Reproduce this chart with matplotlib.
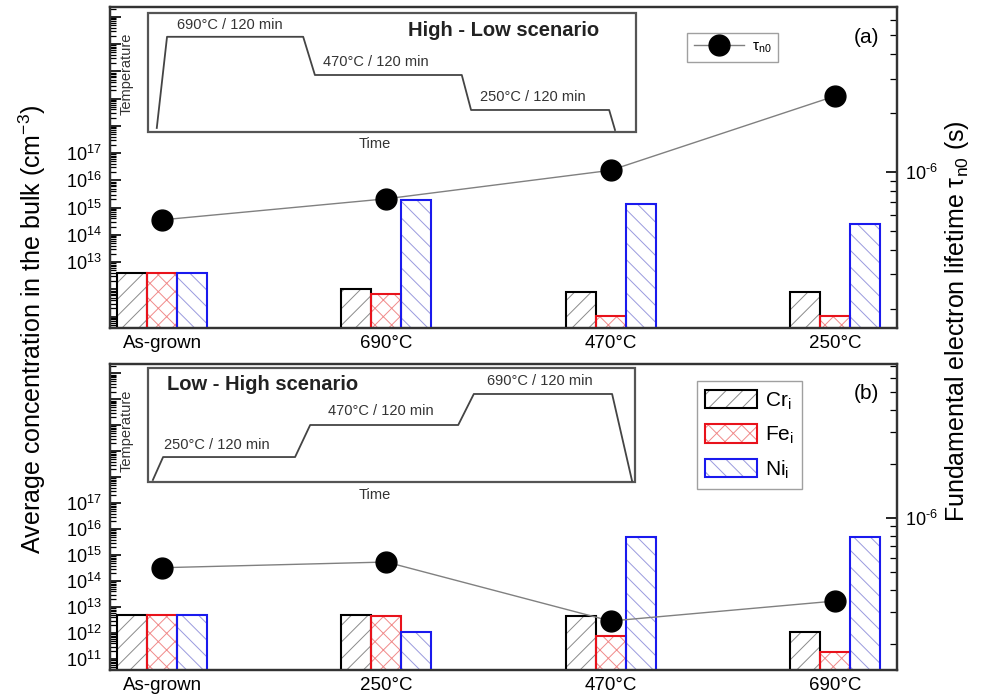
import matplotlib
matplotlib.use('Agg')
import matplotlib.pyplot as plt
import numpy as np
from matplotlib.ticker import LogLocator, FuncFormatter, NullFormatter, FixedLocator
from matplotlib.legend_handler import HandlerTuple
from matplotlib.patches import Patch, Rectangle
from matplotlib.lines import Line2D

plt.rcParams['font.family'] = ['Liberation Sans', 'DejaVu Sans']
plt.rcParams['mathtext.fontset'] = 'custom'
plt.rcParams['mathtext.rm'] = 'Liberation Sans'
plt.rcParams['mathtext.it'] = 'Liberation Sans:italic'
plt.rcParams['mathtext.bf'] = 'Liberation Sans:bold'
plt.rcParams['hatch.linewidth'] = 0.7

# ---------------- data ----------------
cats_a = ['As-grown', '690°C', '470°C', '250°C']
cr_a = [4.0e12, 1.0e12, 8.0e11, 8.0e11]
fe_a = [4.0e12, 6.8e11, 1.05e11, 1.05e11]
ni_a = [4.0e12, 1.9e15, 1.35e15, 2.5e14]
tau_a = [5.7e-7, 7.3e-7, 1.02e-6, 2.44e-6]

cats_b = ['As-grown', '250°C', '470°C', '690°C']
cr_b = [5.0e12, 5.0e12, 4.4e12, 1.07e12]
fe_b = [5.0e12, 4.4e12, 7.5e11, 1.85e11]
ni_b = [5.0e12, 1.07e12, 4.8e15, 4.8e15]
tau_b = [5.3e-7, 5.7e-7, 2.68e-7, 3.46e-7]

labeled_decades_a = [13, 14, 15, 16, 17]
labeled_decades_b = [11, 12, 13, 14, 15, 16, 17]
all_decades = list(range(10, 24))
tau_labeled = [-6]

# schematic temperature profiles (inset units)
prof_a_t = [0.018, 0.039, 0.318, 0.342, 0.643, 0.662, 0.945, 0.957]
prof_a_T = [0.034, 0.80, 0.80, 0.479, 0.479, 0.185, 0.185, 0.017]
prof_b_t = [0.010, 0.031, 0.302, 0.333, 0.637, 0.669, 0.953, 0.994]
prof_b_T = [0.018, 0.219, 0.219, 0.50, 0.50, 0.772, 0.772, 0.009]
steps_a = ['690°C / 120 min', '470°C / 120 min', '250°C / 120 min']
steps_b = ['250°C / 120 min', '470°C / 120 min', '690°C / 120 min']

W, H = 981, 700
fig = plt.figure(figsize=(W / 100, H / 100), dpi=100)


def fr(x0, y0, x1, y1):
    return [x0 / W, 1 - y1 / H, (x1 - x0) / W, (y1 - y0) / H]


series_style = [
    ('Cr$_{\\rm i}$', 'black', '#8a8a8a', '//'),
    ('Fe$_{\\rm i}$', '#e8121b', '#f08a8a', 'xx'),
    ('Ni$_{\\rm i}$', '#1a1aee', '#9a9ade', '\\\\'),
]
spine_col = '#333333'
bw = 0.134
ybot = 1e10


def tau_fmt(v, p):
    e = int(round(np.log10(v)))
    return f'$10^{{\\text{{-}}{abs(e)}}}$' if e in tau_labeled else ''


def panel(rect, cats, cr, fe, ni, tau, labeled, tau_lim, letter):
    ax = fig.add_axes(rect)
    ax.set_yscale('log')
    ax.set_ylim(10 ** 10.58, 10 ** 22.36)
    ax.set_xlim(-0.232, 3.277)
    x = np.arange(len(cats))
    for k, (vals, (lab, ec, hc, hatch)) in enumerate(zip([cr, fe, ni], series_style)):
        pos = x + (k - 1) * bw
        hv = np.array(vals) - ybot
        ax.bar(pos, hv, bw, bottom=ybot, facecolor='white', edgecolor=hc,
               hatch=hatch, linewidth=0, zorder=2)
        ax.bar(pos, hv, bw, bottom=ybot, facecolor='none', edgecolor=ec,
               linewidth=1.5, zorder=3)
    ax.yaxis.set_major_locator(FixedLocator([10.0 ** k for k in all_decades]))
    ax.yaxis.set_minor_locator(LogLocator(base=10, subs=np.arange(2, 10), numticks=200))

    def fmt(v, p):
        e = int(round(np.log10(v)))
        return f'$10^{{{e}}}$' if e in labeled else ''
    ax.yaxis.set_major_formatter(FuncFormatter(fmt))
    ax.yaxis.set_minor_formatter(NullFormatter())
    ax.tick_params(axis='y', which='major', direction='in', length=8, width=1.2,
                   labelsize=13, pad=6, right=False)
    ax.tick_params(axis='y', which='minor', direction='in', length=4, width=0.9, right=False)
    ax.set_xticks(x)
    ax.set_xticklabels(cats)
    ax.tick_params(axis='x', length=0, labelsize=13.5, pad=5)
    for s in ax.spines.values():
        s.set_linewidth(1.6)
        s.set_color(spine_col)

    ax2 = ax.twinx()
    ax2.set_yscale('log')
    ax2.set_ylim(*tau_lim)
    ax2.plot(x, tau, color='#808080', lw=1.0, marker='o', ms=15,
             mfc='black', mec='black', zorder=5)
    ax2.yaxis.set_major_locator(LogLocator(base=10, numticks=20))
    ax2.yaxis.set_major_formatter(FuncFormatter(tau_fmt))
    ax2.yaxis.set_minor_locator(LogLocator(base=10, subs=np.arange(2, 10), numticks=200))
    ax2.yaxis.set_minor_formatter(NullFormatter())
    ax2.tick_params(axis='y', which='major', direction='in', length=8, width=1.2,
                    labelsize=13, pad=6)
    ax2.tick_params(axis='y', which='minor', direction='in', length=5, width=0.9)
    for s in ax2.spines.values():
        s.set_linewidth(1.6)
        s.set_color(spine_col)
    ax2.text(0.961, 0.905, f'({letter})',
             transform=ax2.transAxes, ha='center', va='center', fontsize=15)
    return ax, ax2


ax_a, ax2_a = panel(fr(110, 7, 897, 328), cats_a, cr_a, fe_a, ni_a, tau_a,
                    labeled_decades_a, (10 ** -6.796, 10 ** -5.158), 'a')
ax_b, ax2_b = panel(fr(110, 364, 897, 670), cats_b, cr_b, fe_b, ni_b, tau_b,
                    labeled_decades_b, (10 ** -6.844, 10 ** -5.144), 'b')

# legends
h_tau = Line2D([], [], color='#808080', lw=1.0, marker='o', ms=15, mfc='black', mec='black')
leg_a = ax2_a.legend([h_tau], ['τ$_{\\rm n0}$'], loc='upper left',
                     bbox_to_anchor=(0.723, 0.944), fontsize=11, handlelength=3.3,
                     frameon=True, fancybox=False, edgecolor='#888888',
                     borderpad=0.45, handletextpad=0.5)
leg_a.get_frame().set_linewidth(1.0)

handles_b = []
labels_b = []
for lab, ec, hc, hatch in series_style:
    handles_b.append((Patch(facecolor='white', edgecolor=hc, hatch=hatch, linewidth=0),
                      Patch(facecolor='none', edgecolor=ec, linewidth=1.5)))
    labels_b.append(lab)
leg_b = ax2_b.legend(handles_b, labels_b, loc='upper left', bbox_to_anchor=(0.732, 0.977),
                     fontsize=15, handlelength=2.5, handleheight=1.0, labelspacing=0.6,
                     handletextpad=0.4, borderpad=0.4, frameon=True, fancybox=False,
                     edgecolor='#888888',
                     handler_map={tuple: HandlerTuple(ndivide=1, pad=0)})
leg_b.get_frame().set_linewidth(1.0)


def inset(rect, t, T, steps, step_pos, title, title_pos, temp_y, time_y):
    ia = fig.add_axes(rect)
    ia.set_xlim(0, 1)
    ia.set_ylim(0, 1)
    ia.axis('off')
    ia.add_patch(Rectangle((0, 0), 1, 1, transform=ia.transAxes, facecolor='white',
                           edgecolor='#555555', lw=1.6, clip_on=False, zorder=0))
    ia.plot(t, T, color='#444444', lw=1.3, clip_on=False, zorder=2)
    for s, (px, py) in zip(steps, step_pos):
        ia.text(px, py, s, fontsize=10.5, ha='left', va='center', color='#333333')
    ia.text(title_pos[0], title_pos[1], title, fontsize=14.5, fontweight='bold',
            ha='left', va='center', color='#222222')
    ia.text(-0.043, temp_y, 'Temperature', rotation=90, fontsize=10.5, ha='center',
            va='center', color='#333333', clip_on=False)
    ia.text(0.465, time_y, 'Time', fontsize=10.5, ha='center', va='center',
            color='#333333', clip_on=False)
    return ia


inset(fr(148, 13, 636, 132), prof_a_t, prof_a_T, steps_a,
      [(0.059, 0.899), (0.359, 0.588), (0.680, 0.294)],
      'High - Low scenario', (0.533, 0.857), 0.487, -0.10)
inset(fr(148, 368, 635, 482), prof_b_t, prof_b_T, steps_b,
      [(0.033, 0.325), (0.369, 0.623), (0.696, 0.886)],
      'Low - High scenario', (0.039, 0.851), 0.447, -0.114)

fig.text(32 / W, 1 - 329 / H, 'Average concentration in the bulk (cm$^{-3}$)',
         rotation=90, ha='center', va='center', fontsize=18)
fig.text(957 / W, 1 - 321 / H, 'Fundamental electron lifetime τ$_{\\rm n0}$ (s)',
         rotation=90, ha='center', va='center', fontsize=18)

fig.savefig('out.png', dpi=100)
